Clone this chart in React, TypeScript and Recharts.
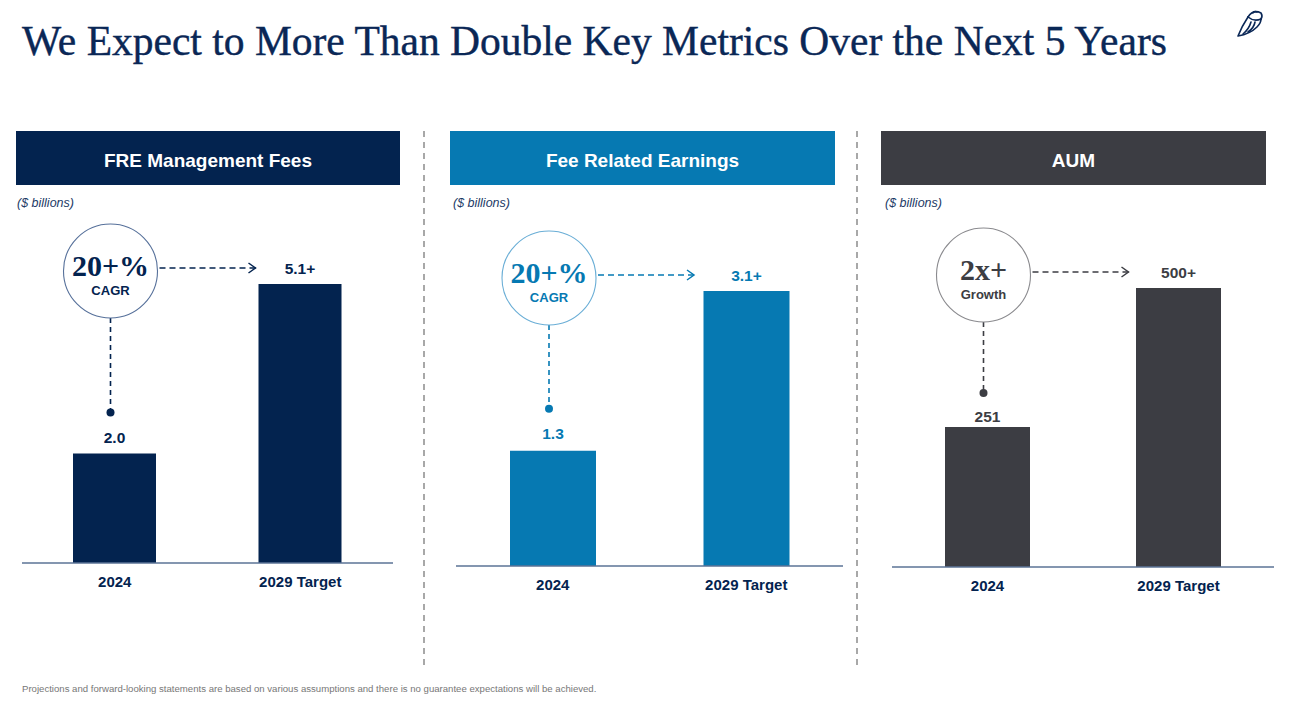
import React from "react";
import { BarChart, Bar, XAxis, YAxis, LabelList } from "recharts";

// ---------- data ----------
const categories = ["2024", "2029 Target"];

const freValues = [2.0, 5.1];
const freLabels = ["2.0", "5.1+"];

const ferValues = [1.3, 3.1];
const ferLabels = ["1.3", "3.1+"];

const aumValues = [251, 500];
const aumLabels = ["251", "500+"];

const panelTitles = ["FRE Management Fees", "Fee Related Earnings", "AUM"];
const unitNote = "($ billions)";
const badgeMain = ["20+%", "20+%", "2x+"];
const badgeSub = ["CAGR", "CAGR", "Growth"];

const pageTitle = "We Expect to More Than Double Key Metrics Over the Next 5 Years";
const footnote =
  "Projections and forward-looking statements are based on various assumptions and there is no guarantee expectations will be achieved.";

// ---------- styles ----------
const NAVY = "#03234f";
const BLUE = "#0679b2";
const DARK = "#3c3d43";
const SANS = "'Liberation Sans', Arial, Helvetica, sans-serif";
const SERIF = "'Liberation Serif', 'Times New Roman', serif";

type Panel = {
  title: string;
  values: number[];
  labels: string[];
  main: string;
  sub: string;
  color: string;
  circleStroke: string;
  headerX: number;
  headerW: number;
  noteX: number;
  box: { left: number; top: number; width: number; height: number };
  margin: { top: number; left: number; right: number; bottom: number };
  barSize: number;
  labelGap: number;
  dotGap: number;
};

const panels: Panel[] = [
  {
    title: panelTitles[0],
    values: freValues,
    labels: freLabels,
    main: badgeMain[0],
    sub: badgeSub[0],
    color: NAVY,
    circleStroke: "#56709a",
    headerX: 16,
    headerW: 384,
    noteX: 17,
    box: { left: 0, top: 190, width: 420, height: 420 },
    margin: { top: 94, left: 22, right: 27, bottom: 17 },
    barSize: 83,
    labelGap: 16,
    dotGap: 41,
  },
  {
    title: panelTitles[1],
    values: ferValues,
    labels: ferLabels,
    main: badgeMain[1],
    sub: badgeSub[1],
    color: BLUE,
    circleStroke: "#6aaed6",
    headerX: 450,
    headerW: 385,
    noteX: 453,
    box: { left: 430, top: 190, width: 430, height: 420 },
    margin: { top: 101, left: 26, right: 17, bottom: 14 },
    barSize: 86,
    labelGap: 17,
    dotGap: 42,
  },
  {
    title: panelTitles[2],
    values: aumValues,
    labels: aumLabels,
    main: badgeMain[2],
    sub: badgeSub[2],
    color: DARK,
    circleStroke: "#8a8a8e",
    headerX: 881,
    headerW: 385,
    noteX: 885,
    box: { left: 866, top: 190, width: 426, height: 420 },
    margin: { top: 98, left: 26, right: 18, bottom: 13 },
    barSize: 85,
    labelGap: 10,
    dotGap: 34,
  },
];

function makeLabelContent(p: Panel) {
  return (props: any) => {
    const vb = props.viewBox || {};
    const x = Number(typeof vb.x === "number" ? vb.x : props.x);
    const y = Number(typeof vb.y === "number" ? vb.y : props.y);
    const width = Number(typeof vb.width === "number" ? vb.width : props.width);
    const height = Number(typeof vb.height === "number" ? vb.height : props.height);
    const index = props.index;
    if (!isFinite(x) || !isFinite(y)) return null;
    const cx = x + width / 2;
    const text = p.labels[index] ?? props.value;

    if (index !== 0) {
      return (
        <text
          x={cx}
          y={y - 16}
          dy={5.5}
          textAnchor="middle"
          fontFamily={SANS}
          fontSize={15.5}
          fontWeight={700}
          fill={p.color}
        >
          {text}
        </text>
      );
    }

    // derive the pixel position of the target value from this bar's own geometry
    const bottom = y + height;
    const pxPerUnit = height / p.values[0];
    const yTop = bottom - p.values[1] * pxPerUnit;
    const lineY = yTop - 16;
    const ccx = cx - 4;
    const ccy = lineY + 3;
    const r = 47;
    const dotY = y - p.dotGap;
    const arrowStart = ccx + r + 2;
    const arrowEnd = cx + 141;

    return (
      <g>
        <text
          x={cx}
          y={y - p.labelGap}
          dy={5.5}
          textAnchor="middle"
          fontFamily={SANS}
          fontSize={15.5}
          fontWeight={700}
          fill={p.color}
        >
          {text}
        </text>
        <line
          x1={ccx}
          y1={ccy + r}
          x2={ccx}
          y2={dotY}
          stroke={p.color}
          strokeWidth={1.6}
          strokeDasharray="5 4"
        />
        <circle cx={ccx} cy={dotY} r={4} fill={p.color} />
        <circle cx={ccx} cy={ccy} r={r} fill="#fff" stroke={p.circleStroke} strokeWidth={1.1} />
        <text
          x={ccx}
          y={lineY + 8}
          textAnchor="middle"
          fontFamily={SERIF}
          fontSize={30}
          fontWeight={700}
          fill={p.color}
        >
          {p.main}
        </text>
        <text
          x={ccx}
          y={lineY + 27}
          textAnchor="middle"
          fontFamily={SANS}
          fontSize={13}
          fontWeight={700}
          fill={p.color}
        >
          {p.sub}
        </text>
        <line
          x1={arrowStart}
          y1={lineY}
          x2={arrowEnd}
          y2={lineY}
          stroke={p.color}
          strokeWidth={1.5}
          strokeDasharray="6 4"
        />
        <path
          d={`M${arrowEnd - 7} ${lineY - 5} L${arrowEnd} ${lineY} L${arrowEnd - 7} ${lineY + 5}`}
          fill="none"
          stroke={p.color}
          strokeWidth={1.5}
        />
      </g>
    );
  };
}

function PanelChart({ p }: { p: Panel }) {
  const data = categories.map((c, i) => ({ category: c, value: p.values[i], label: p.labels[i] }));
  return (
    <div style={{ position: "absolute", left: p.box.left, top: p.box.top }}>
      <BarChart width={p.box.width} height={p.box.height} data={data} margin={p.margin}>
        <XAxis
          dataKey="category"
          height={30}
          tickLine={false}
          tickSize={0}
          tickMargin={13}
          axisLine={{ stroke: "#5b7396", strokeWidth: 1.5 }}
          tick={{ fill: NAVY, fontSize: 15, fontWeight: 700, fontFamily: SANS }}
          interval={0}
        />
        <YAxis hide domain={[0, "dataMax"]} />
        <Bar dataKey="value" fill={p.color} barSize={p.barSize} isAnimationActive={false}>
          <LabelList dataKey="label" content={makeLabelContent(p)} />
        </Bar>
      </BarChart>
    </div>
  );
}

export default function App() {
  return (
    <div
      style={{
        position: "absolute",
        left: 0,
        top: 0,
        width: 1292,
        height: 702,
        background: "#fff",
        overflow: "hidden",
      }}
    >
      <svg width={1292} height={702} style={{ position: "absolute", left: 0, top: 0 }}>
        <text x={22} y={55} fontFamily={SERIF} fontSize={41.5} fill="#0a2756" stroke="#0a2756" strokeWidth={0.4}>
          {pageTitle}
        </text>
        {/* owl logo */}
        <g fill="none" stroke="#0a2756" strokeWidth={1.6} strokeLinecap="round" strokeLinejoin="round">
          <path d="M1248 17 Q1253 9 1261 13 Q1263 16 1261 19" />
          <path d="M1248 17 Q1254 22 1261 19" />
          <path d="M1248 17 Q1242 26 1238 36 Q1250 34 1257 27 Q1261 23 1261 19" />
          <path d="M1243 34 Q1249 29 1251 22" />
          <path d="M1248 32 Q1254 28 1255 22" />
          <path d="M1253 13 Q1254 11 1257 12" />
        </g>
        {panels.map((p, i) => (
          <g key={i}>
            <rect x={p.headerX} y={131} width={p.headerW} height={54} fill={p.color} />
            <text
              x={p.headerX + p.headerW / 2}
              y={167}
              textAnchor="middle"
              fontFamily={SANS}
              fontSize={19}
              fontWeight={700}
              fill="#fff"
            >
              {p.title}
            </text>
            <text
              x={p.noteX}
              y={207}
              fontFamily={SANS}
              fontSize={12.5}
              fontStyle="italic"
              fill="#1d3a66"
            >
              {unitNote}
            </text>
          </g>
        ))}
        <line x1={424} y1={131} x2={424} y2={668} stroke="#8c8c8c" strokeWidth={1.5} strokeDasharray="6 5" />
        <line x1={857} y1={131} x2={857} y2={668} stroke="#8c8c8c" strokeWidth={1.5} strokeDasharray="6 5" />
        <text x={22} y={692} fontFamily={SANS} fontSize={9.6} fill="#777">
          {footnote}
        </text>
      </svg>
      {panels.map((p, i) => (
        <PanelChart key={i} p={p} />
      ))}
    </div>
  );
}
